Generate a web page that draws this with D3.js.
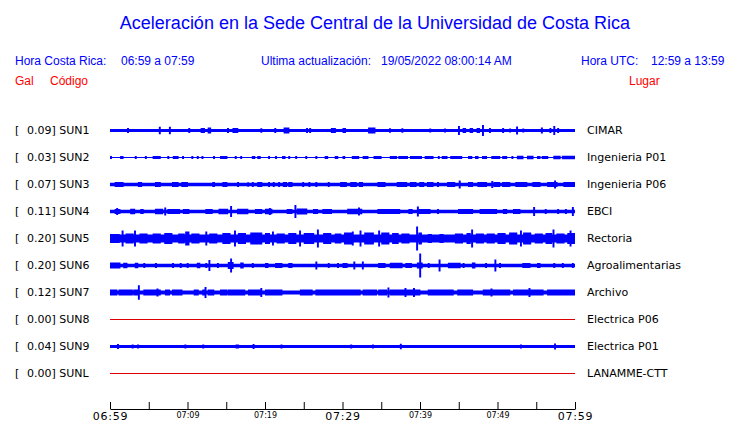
<!DOCTYPE html>
<html>
<head>
<meta charset="utf-8">
<script src="https://cdn.jsdelivr.net/npm/d3@7"></script>
<style>
    body { margin: 0; background: #fff; }
    svg text { white-space: pre; }
    .head { font-family: "Liberation Sans", Arial, sans-serif; }
    .lab { font-family: "DejaVu Sans", sans-serif; font-size: 11px; fill: #000; }
</style>
</head>
<body>
<script>
//station codes, peak values (Gal) and places
var codes = ["SUN1", "SUN2", "SUN3", "SUN4", "SUN5", "SUN6", "SUN7", "SUN8", "SUN9", "SUNL"];
var peaks = ["0.09", "0.03", "0.07", "0.11", "0.20", "0.20", "0.12", "0.00", "0.04", "0.00"];
var places = ["CIMAR", "Ingenieria P01", "Ingenieria P06", "EBCI", "Rectoria", "Agroalimentarias",
              "Archivo", "Electrica P06", "Electrica P01", "LANAMME-CTT"];

//noise level of each trace (Gal), 0 = no signal
var baseAmp = [0.025, 0.009, 0.028, 0.028, 0.065, 0.028, 0.033, 0, 0.027, 0];

//bursts: [from minute, to minute, amplitude Gal], minutes after 06:59
var sun1 = [[2.2,2.4,0.042],[6.3,6.5,0.062],[7.6,7.8,0.062],[10.1,10.3,0.042],[11.7,12.2,0.042],[12.6,13.0,0.05],
    [15.1,15.3,0.042],[15.8,16.5,0.042],[19.4,19.6,0.037],[21.2,21.4,0.042],[22.4,23.1,0.05],[25.3,25.5,0.042],
    [25.7,25.9,0.042],[28.5,29.1,0.042],[30.0,30.4,0.042],[33.3,34.2,0.05],[36.0,36.2,0.037],[37.6,37.8,0.037],
    [41.2,41.4,0.033],[43.1,43.3,0.033],[44.9,45.1,0.075],[45.5,45.9,0.042],[46.4,46.8,0.042],[47.3,47.7,0.042],
    [48.0,48.2,0.09],[48.9,49.1,0.042],[50.6,50.8,0.042],[51.5,51.7,0.033],[52.4,52.6,0.067],[53.2,53.4,0.033],
    [55.6,55.8,0.05],[56.7,56.9,0.042],[57.2,57.4,0.075],[57.7,57.9,0.042]];
var sun2 = [[0.0,0.2,0.025],[1.3,1.7,0.025],[3.2,3.4,0.025],[4.5,4.7,0.025],[5.5,6.5,0.025],[7.4,7.6,0.025],
    [8.1,8.8,0.025],[9.3,9.5,0.025],[10.5,10.7,0.025],[11.2,11.4,0.025],[11.8,12.0,0.025],[13.3,13.5,0.025],
    [14.2,15.1,0.025],[16.1,16.3,0.025],[16.8,17.0,0.025],[18.3,18.7,0.025],[19.0,19.4,0.025],[20.4,20.6,0.025],
    [21.3,21.5,0.025],[22.2,22.6,0.025],[23.0,23.2,0.025],[23.9,24.1,0.025],[25.2,25.4,0.025],[26.5,26.7,0.025],
    [27.7,28.1,0.025],[29.0,29.4,0.025],[30.0,30.3,0.025],[31.2,32.1,0.025],[32.6,33.3,0.025],[34.0,35.0,0.025],
    [36.1,37.0,0.025],[37.2,38.4,0.025],[38.7,40.2,0.025],[40.6,41.7,0.025],[42.3,42.5,0.025],[42.8,43.5,0.025],
    [43.9,45.4,0.025],[46.2,46.7,0.025],[47.1,47.5,0.025],[48.0,48.6,0.025],[49.2,50.3,0.025],[50.6,51.2,0.025],
    [51.8,52.0,0.025],[52.5,53.3,0.028],[53.8,54.6,0.028],[55.1,55.5,0.025],[55.7,56.5,0.025],[57.2,58.1,0.028],
    [58.3,60,0.028]];
var sun3 = [[0.6,1.7,0.042],[3.6,4.1,0.042],[5.8,6.5,0.042],[8.0,8.8,0.042],[9.2,10.0,0.042],[13.2,13.5,0.042],
    [14.5,15.1,0.042],[16.4,16.6,0.042],[17.7,17.9,0.037],[18.3,18.5,0.042],[19.0,19.6,0.042],[20.4,20.6,0.042],
    [21.0,21.2,0.042],[21.7,21.9,0.042],[22.3,22.8,0.042],[23.0,23.5,0.042],[24.8,25.0,0.042],[25.6,25.8,0.042],
    [26.5,26.7,0.042],[28.1,28.3,0.042],[29.7,30.5,0.042],[31.0,31.8,0.042],[32.1,32.6,0.042],[34.5,35.5,0.042],
    [37.0,38.3,0.042],[38.7,39.5,0.042],[39.9,40.5,0.042],[40.9,41.7,0.042],[42.2,42.4,0.042],[43.5,44.5,0.042],
    [45.0,45.2,0.067],[46.2,46.8,0.042],[47.4,48.6,0.042],[49.2,49.4,0.058],[49.5,50.3,0.042],[50.6,51.6,0.042],
    [52.3,53.8,0.042],[54.5,55.5,0.042],[56.4,57.7,0.042],[57.3,57.5,0.067],[58.5,60,0.042]];
var sun4 = [[0.8,1.0,0.058],[0.6,1.3,0.04],[2.6,3.2,0.045],[3.9,4.3,0.04],[5.8,6.8,0.045],[7.0,7.2,0.067],
    [7.4,9.0,0.042],[9.4,10.2,0.042],[12.3,13.2,0.042],[14.0,15.2,0.045],[15.5,15.7,0.092],[16.4,17.8,0.045],
    [18.7,19.6,0.042],[20.0,20.9,0.045],[20.5,20.7,0.058],[22.8,23.5,0.042],[23.8,24.0,0.11],[24.1,25.4,0.05],
    [26.2,26.8,0.042],[27.4,28.6,0.042],[30.6,32.5,0.045],[32.0,32.2,0.067],[34.5,37.4,0.042],[38.5,39.0,0.042],
    [39.6,39.8,0.083],[39.7,41.3,0.042],[42.2,42.4,0.042],[44.9,46.8,0.042],[47.7,49.9,0.042],[50.7,51.2,0.042],
    [52.0,52.9,0.042],[54.6,54.8,0.075],[56.1,56.3,0.042],[57.7,57.9,0.042],[58.7,58.9,0.042],[59.6,59.8,0.075]];
var sun5 = [[0.0,1.2,0.075],[1.5,1.7,0.133],[2.0,3.0,0.083],[3.1,3.3,0.133],[3.8,4.8,0.083],[5.5,6.5,0.083],
    [7.0,8.0,0.09],[8.8,9.6,0.083],[9.7,10.2,0.117],[10.5,11.5,0.083],[12.3,12.5,0.117],[12.8,13.8,0.083],
    [14.5,15.5,0.09],[16.0,16.2,0.133],[16.5,17.5,0.09],[18.1,19.6,0.1],[20.0,20.6,0.09],[20.9,21.1,0.117],
    [21.5,22.5,0.083],[23.0,24.0,0.09],[24.4,24.6,0.133],[25.0,26.3,0.09],[26.7,26.9,0.15],[27.5,28.5,0.09],
    [29.0,29.8,0.083],[30.2,31.2,0.1],[31.2,31.4,0.117],[32.2,32.4,0.133],[32.8,34.0,0.1],[34.6,34.8,0.133],
    [35.0,36.0,0.1],[36.4,37.2,0.09],[37.6,38.6,0.083],[39.5,39.7,0.2],[39.8,40.2,0.1],[41.0,41.5,0.075],
    [42.5,43.0,0.075],[44.5,45.5,0.083],[46.0,46.5,0.09],[46.6,46.8,0.15],[47.2,48.2,0.083],[48.6,49.6,0.083],
    [50.0,51.0,0.09],[51.5,52.5,0.1],[52.9,53.1,0.133],[53.3,54.3,0.1],[54.8,55.8,0.083],[56.2,57.0,0.09],
    [57.1,57.3,0.15],[57.6,58.6,0.083],[59.0,60,0.09],[59.3,59.5,0.133]];
var sun6 = [[0.0,1.3,0.05],[1.7,2.2,0.045],[3.2,3.6,0.045],[4.3,4.5,0.042],[5.8,6.0,0.042],[8.0,8.2,0.042],
    [9.0,9.2,0.042],[9.9,10.1,0.042],[11.2,11.6,0.045],[12.3,12.5,0.042],[12.7,12.9,0.092],[13.8,14.0,0.042],
    [15.2,15.9,0.058],[15.5,15.7,0.117],[16.8,17.2,0.05],[18.3,18.5,0.042],[20.0,20.4,0.042],[21.3,22.2,0.042],
    [23.0,23.5,0.042],[26.5,26.7,0.067],[28.1,28.3,0.042],[29.3,29.5,0.042],[30.0,30.6,0.042],[31.4,31.6,0.067],
    [32.5,32.7,0.067],[34.6,35.5,0.042],[36.1,37.7,0.045],[38.1,38.9,0.042],[39.6,40.3,0.05],[39.9,40.1,0.2],
    [41.0,41.2,0.042],[42.4,42.6,0.1],[43.6,45.2,0.045],[45.5,45.7,0.042],[46.7,47.1,0.05],[48.4,48.6,0.042],
    [49.6,49.8,0.1],[50.2,50.4,0.042],[53.2,54.2,0.042],[55.1,55.5,0.042],[57.2,57.4,0.042],[58.3,58.5,0.042],
    [59.6,59.8,0.042]];
var sun7 = [[0.0,0.9,0.05],[1.1,2.9,0.05],[3.0,3.7,0.05],[3.6,3.8,0.12],[4.3,4.9,0.05],[4.9,6.5,0.05],
    [6.0,6.2,0.067],[7.1,7.7,0.05],[8.0,9.3,0.05],[10.8,11.4,0.05],[11.9,12.3,0.05],[12.2,12.4,0.092],
    [12.6,13.4,0.05],[14.2,15.1,0.05],[15.2,17.4,0.05],[17.8,19.6,0.05],[19.4,19.6,0.075],[20.0,22.2,0.05],
    [24.5,26.1,0.05],[26.5,30.3,0.05],[29.7,32.3,0.05],[32.6,34.4,0.05],[34.6,35.7,0.05],[35.8,36.0,0.083],
    [36.1,40.0,0.05],[38.0,38.2,0.075],[39.1,39.3,0.075],[41.0,44.3,0.05],[44.8,46.8,0.05],[48.1,51.6,0.05],
    [49.1,49.3,0.067],[52.0,55.9,0.05],[54.0,54.2,0.075],[56.4,60,0.05]];
var sun8 = [];
var sun9 = [[0.9,1.1,0.04],[2.8,3.0,0.035],[3.5,3.7,0.035],[9.6,9.8,0.035],[11.9,12.1,0.035],[16.2,16.6,0.035],
    [18.4,18.6,0.042],[22.0,22.2,0.035],[31.0,31.2,0.035],[33.8,34.0,0.035],[37.4,37.6,0.045],[52.9,53.1,0.035],
    [57.3,57.5,0.05]];
var sunl = [];
var bursts = [sun1, sun2, sun3, sun4, sun5, sun6, sun7, sun8, sun9, sunl];

//time axis: minutes after 06:59 and their labels
var tickMinutes = [0, 5, 10, 15, 20, 25, 30, 35, 40, 45, 50, 55, 60];
var tickLabels = {0: "06:59", 10: "07:09", 20: "07:19", 30: "07:29", 40: "07:39", 50: "07:49", 60: "07:59"};
var bigTicks = [0, 30, 60];

window.onload = drawChart();

function drawChart(){
    var width = 740,
        height = 423;

    var svg = d3.select("body")
        .append("svg")
        .attr("width", width)
        .attr("height", height);

    //scales
    var x = d3.scaleLinear().domain([0, 60]).range([110, 575]);
    var row = d3.scalePoint().domain(codes).range([130, 373]);
    var amp = d3.scaleLinear().domain([0, 0.2]).range([0, 12]);

    //header texts
    svg.append("text").attr("class", "head")
        .attr("x", 375).attr("y", 29)
        .attr("text-anchor", "middle")
        .style("font-size", "18px").style("fill", "#0000ff")
        .text("Aceleración en la Sede Central de la Universidad de Costa Rica");

    var headRow = [
        [15, "Hora Costa Rica:"], [121, "06:59 a 07:59"],
        [261, "Ultima actualización:"], [381, "19/05/2022 08:00:14 AM"],
        [581, "Hora UTC:"], [651, "12:59 a 13:59"]
    ];
    svg.selectAll(".h1")
        .data(headRow)
        .enter()
        .append("text")
        .attr("class", "head h1")
        .attr("x", function(d){ return d[0]; })
        .attr("y", 65)
        .style("font-size", "12px").style("fill", "#0000ff")
        .text(function(d){ return d[1]; });

    var redRow = [[15, "Gal"], [50, "Código"], [629, "Lugar"]];
    svg.selectAll(".h2")
        .data(redRow)
        .enter()
        .append("text")
        .attr("class", "head h2")
        .attr("x", function(d){ return d[0]; })
        .attr("y", 85)
        .style("font-size", "12px").style("fill", "#ff0000")
        .text(function(d){ return d[1]; });

    //row labels
    codes.forEach(function(c, i){
        var y = row(c) + 4;
        svg.append("text").attr("class", "lab").attr("x", 15).attr("y", y).text("[");
        svg.append("text").attr("class", "lab").attr("x", 27).attr("y", y).text(peaks[i] + "] " + c);
        svg.append("text").attr("class", "lab").attr("x", 587).attr("y", y).text(places[i]);
    });

    //envelope of each trace built from noise level and bursts
    var times = d3.range(0, 60.001, 0.05);
    var area = d3.area()
        .curve(d3.curveStepAfter)
        .x(function(d){ return x(d.t); });

    codes.forEach(function(c, i){
        var y0 = row(c);
        if (baseAmp[i] === 0){
            svg.append("line")
                .attr("x1", x(0)).attr("x2", x(60))
                .attr("y1", y0 + 0.5).attr("y2", y0 + 0.5)
                .style("stroke", "#dd0000")
                .style("stroke-width", 1);
            return;
        }
        var env = times.map(function(t){
            var a = baseAmp[i];
            bursts[i].forEach(function(b){
                if (t >= b[0] - 0.02 && t <= b[1] + 0.02 && b[2] > a) a = b[2];
            });
            return {t: t, a: Math.max(amp(a), 0.6)};
        });
        svg.append("path")
            .datum(env)
            .attr("d", area
                .y0(function(d){ return y0 + 0.5 - d.a; })
                .y1(function(d){ return y0 + 0.5 + d.a; }))
            .style("fill", "#0000ff")
            .style("stroke", "none");
    });

    //time axis
    var axis = d3.axisBottom(x)
        .tickValues(tickMinutes)
        .tickSizeInner(-7)
        .tickSizeOuter(0)
        .tickPadding(3)
        .tickFormat(function(d){ return tickLabels[d] || ""; });

    var gAxis = svg.append("g")
        .attr("transform", "translate(0,409)")
        .call(axis);
    gAxis.select(".domain").style("stroke", "#000");
    gAxis.selectAll(".tick line").style("stroke", "#000");
    gAxis.selectAll(".tick text")
        .style("fill", "#000")
        .style("font-family", "DejaVu Sans, sans-serif")
        .style("font-size", function(d){ return bigTicks.indexOf(d) >= 0 ? "11px" : "8px"; })
        .style("letter-spacing", function(d){ return bigTicks.indexOf(d) >= 0 ? "0.8px" : "0px"; });
};
</script>
</body>
</html>
